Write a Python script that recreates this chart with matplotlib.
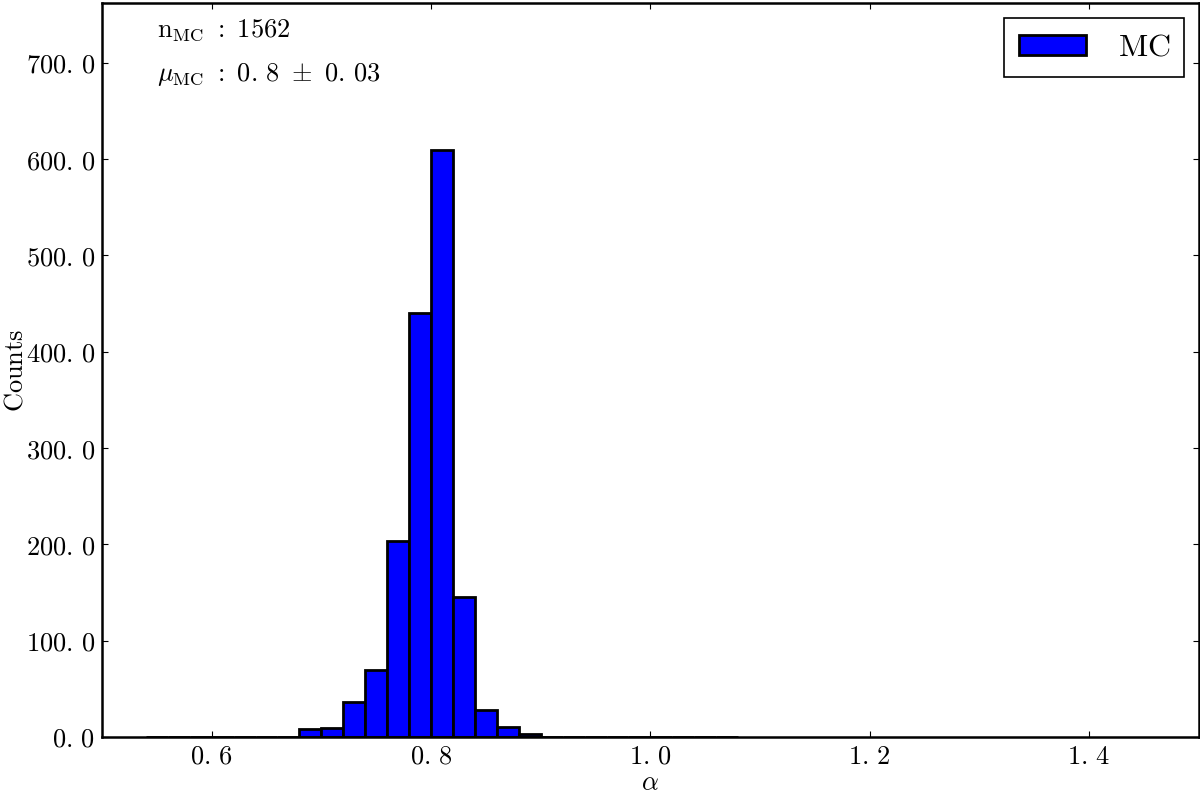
import numpy as np
import matplotlib
matplotlib.use('Agg')
import matplotlib.pyplot as plt
from matplotlib.ticker import FuncFormatter

plt.rcParams['mathtext.fontset'] = 'cm'
plt.rcParams['font.family'] = 'serif'
plt.rcParams['xtick.direction'] = 'in'
plt.rcParams['ytick.direction'] = 'in'
plt.rcParams['xtick.top'] = True
plt.rcParams['ytick.right'] = True

# histogram bins (alpha) and counts
bin_edges = np.round(np.arange(0.54, 1.0801, 0.02), 3)
counts = [0, 0, 0, 0, 0, 0, 0,
          8, 9, 36, 70, 203, 440, 610, 145, 28, 10, 3,
          0, 0, 0, 0, 0, 0, 0, 0, 0]
n_mc = 1562
mu_mc = 0.8
sigma_mc = 0.03


def mfmt(v, p=None, d=1):
    # old-style mathtext look: a small gap after the decimal point
    s = '%.*f' % (d, v)
    return s.replace('.', r'.\,')


fig = plt.figure(figsize=(12, 7.95), dpi=100)
ax = fig.add_axes([0.085, 0.073, 0.914, 0.923])

ax.bar(bin_edges[:-1], counts, width=np.diff(bin_edges), align='edge',
       color='#0000ff', edgecolor='black', linewidth=2, label=r'$\mathrm{MC}$')

ax.set_xlim(0.5, 1.5)
ax.set_ylim(0, 762)
ax.set_xticks([0.6, 0.8, 1.0, 1.2, 1.4])
ax.set_yticks(np.arange(0, 701, 100))
ax.xaxis.set_major_formatter(FuncFormatter(lambda v, p: '$' + mfmt(v) + '$'))
ax.yaxis.set_major_formatter(FuncFormatter(lambda v, p: '$' + mfmt(v) + '$'))
ax.tick_params(labelsize=19, length=4, width=0.8, pad=5)
for s in ax.spines.values():
    s.set_linewidth(1.8)

ax.set_xlabel(r'$\alpha$', fontsize=19, labelpad=1)
ax.set_ylabel(r'$\mathrm{Counts}$', fontsize=19)
ax.yaxis.set_label_coords(-0.068, 0.5)

ax.text(0.05, 0.963, r'$\mathrm{n_{MC}}\ :\ %d$' % n_mc, transform=ax.transAxes,
        fontsize=19, ha='left', va='center')
ax.text(0.05, 0.903, r'$\mu_{\mathrm{MC}}\ :\ %s\ \pm\ %s$'
        % (mfmt(mu_mc), mfmt(sigma_mc, d=2)),
        transform=ax.transAxes, fontsize=19, ha='left', va='center')

leg = ax.legend(loc='upper right', fontsize=23, fancybox=False, framealpha=1,
                borderaxespad=0.45, handlelength=2.1, handleheight=0.6,
                borderpad=0.45, handletextpad=1.0)
leg.get_frame().set_edgecolor('black')
leg.get_frame().set_linewidth(1.2)

fig.savefig('out.png', dpi=100)
